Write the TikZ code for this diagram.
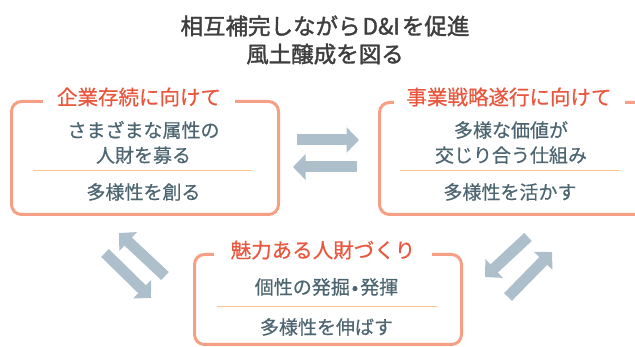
\documentclass[tikz,border=0pt]{standalone}
\usepackage{fontspec}
\setmainfont{Noto Sans CJK JP}
\newfontfamily\medjp[FakeBold=0.5]{Noto Sans CJK JP}
\newfontfamily\semijp[FakeBold=1.6]{Noto Sans CJK JP}
\usetikzlibrary{arrows.meta}
\definecolor{frame}{HTML}{F5A084}
\definecolor{ttl}{HTML}{E9573E}
\definecolor{sepc}{HTML}{FCC48E}
\definecolor{bodyc}{HTML}{4D6570}
\definecolor{arr}{HTML}{ADBFCA}
\definecolor{headc}{HTML}{3E3E3E}
\begin{document}
\begin{tikzpicture}[x=1pt,y=-1pt,
  card/.style={draw=frame, line width=3pt, rounded corners=10pt, inner sep=0pt, anchor=north west},
  cardtitle/.style={fill=white, text=ttl, inner xsep=14pt, inner ysep=2pt, font=\medjp\fontsize{20.5}{24}\selectfont},
  bodytext/.style={text=bodyc, align=center, inner sep=0pt, font=\medjp\fontsize{19}{25}\selectfont},
  sepline/.style={draw=sepc, line width=1pt},
  bigarrow/.style={draw=arr, line width=11pt, -{Triangle[width=25pt,length=12.5pt]}}
]
\useasboundingbox (0,0) rectangle (635,347);

% main title
\node[text=headc, align=center, font=\semijp\fontsize{22.5}{28}\selectfont] (title) at (325,40)
  {相互補完しながら\kern2pt D\&I\kern2pt を促進\\風土醸成を図る};

% left card
\node[card, minimum width=267pt, minimum height=113pt] (lbox) at (10,100) {};
\node[cardtitle] (ltitle) at (139,97) {企業存続に向けて};
\node[bodytext] (ltop) at (143.5,142.5) {さまざまな属性の\\人財を募る};
\coordinate (ls1) at (33,171); \coordinate (ls2) at (252,171);
\draw[sepline] (ls1) -- (ls2);
\node[bodytext] (lbot) at (143.5,192) {多様性を創る};

% right card
\node[card, minimum width=266pt, minimum height=112pt] (rbox) at (378,101) {};
\node[cardtitle, inner xsep=13pt] (rtitle) at (509,97) {事業戦略遂行に向けて};
\node[bodytext] (rtop) at (511,142.5) {多様な価値が\\交じり合う仕組み};
\coordinate (rs1) at (400,171); \coordinate (rs2) at (620,171);
\draw[sepline] (rs1) -- (rs2);
\node[bodytext] (rbot) at (510,192) {多様性を活かす};

% bottom card
\node[card, minimum width=267pt, minimum height=90pt] (bbox) at (193,253) {};
\node[cardtitle, inner xsep=17pt] (btitle) at (323,250) {魅力ある人財づくり};
\node[bodytext] (btop) at (326.5,287) {個性の発掘\kern2pt•\kern2pt 発揮};
\coordinate (bs1) at (217,307); \coordinate (bs2) at (437,307);
\draw[sepline] (bs1) -- (bs2);
\node[bodytext] (bbot) at (326.5,327) {多様性を伸ばす};

% arrows between cards
\coordinate (m1a) at (297,140); \coordinate (m1b) at (359,140);
\coordinate (m2a) at (357,167); \coordinate (m2b) at (293,167);
\draw[bigarrow] (m1a) -- (m1b);
\draw[bigarrow] (m2a) -- (m2b);

\coordinate (l1a) at (165,276); \coordinate (l1b) at (119,233);
\coordinate (l2a) at (105,253); \coordinate (l2b) at (151,298);
\draw[bigarrow] (l1a) -- (l1b);
\draw[bigarrow] (l2a) -- (l2b);

\coordinate (r1a) at (528,237); \coordinate (r1b) at (485,277);
\coordinate (r2a) at (508,297); \coordinate (r2b) at (552,252);
\draw[bigarrow] (r1a) -- (r1b);
\draw[bigarrow] (r2a) -- (r2b);
\end{tikzpicture}
\end{document}
